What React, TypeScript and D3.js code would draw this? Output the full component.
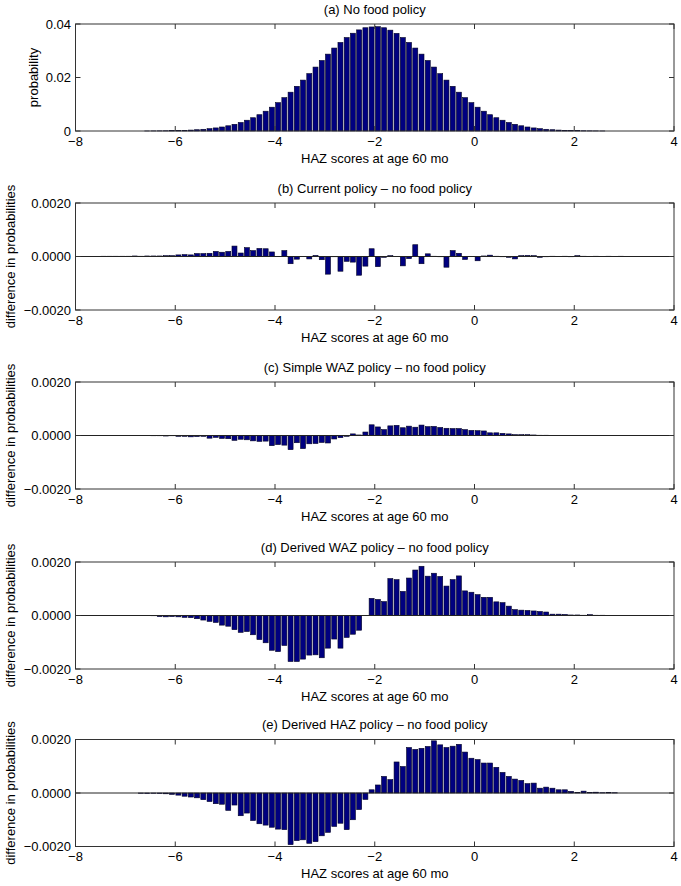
import React from 'react';
import * as d3 from 'd3';

// HAZ bins: 96 bins of width 0.125 from -8 to 4
const binWidth = 0.125;
const binStart = -8;
const xTicks = [-8, -6, -4, -2, 0, 2, 4];

const noFood = [
  0, 0, 0, 0, 0, 0, 0, 0, 0, 0, 0, 0.00002, 0.00004, 0.00006, 0.00009, 0.00013,
  0.00018, 0.00025, 0.00035, 0.00048, 0.00064, 0.00086, 0.00115, 0.0015, 0.00195, 0.0025,
  0.00318, 0.00403, 0.00496, 0.00609, 0.0074, 0.0089, 0.01059, 0.01246, 0.01451, 0.01671,
  0.01903, 0.02144, 0.0239, 0.02635, 0.02874, 0.03101, 0.0331, 0.03494, 0.03655, 0.0378,
  0.0386, 0.0389, 0.039, 0.0386, 0.0377, 0.03649, 0.03494, 0.0331, 0.03101, 0.02874,
  0.02635, 0.0239, 0.02144, 0.01903, 0.01671, 0.01451, 0.01246, 0.01059, 0.0089, 0.0074,
  0.00609, 0.00496, 0.00403, 0.00318, 0.0025, 0.00195, 0.0015, 0.00115, 0.00086, 0.00064,
  0.00048, 0.00035, 0.00025, 0.00018, 0.00013, 0.00009, 0.00006, 0.00004, 0.00002, 0,
  0, 0, 0, 0, 0, 0, 0, 0, 0, 0,
];

const currentPolicy = [
  0, 0, 0, 0, 0.00001, 0.00001, 0.00001, 0.00001, 0.00001, 0.00002, 0.00001, 0.00002, 0.00002, 0.00002, 0.00003, 0.00003,
  0.00006, 0.00007, 0.00006, 0.00011, 0.00011, 0.00012, 0.00019, 0.00016, 0.00019,
  0.00039, 0.00013, 0.00033, 0.00022, 0.0003, 0.00029, 0.00017, 0.0, 0.00022,
  -0.00027, -0.0001, 0.0, -0.00009, 0.00004, -0.00012, -0.00066, -0.00001, -0.00055, -0.00018, -0.00021, -0.0007, -0.00036, 0.00029,
  -0.00038, -0.00003, 0.00003, 0.0, -0.00035, -0.00008, 0.00044, -0.00027, 0.0001, 0.00001, -0.00001, -0.0004, 0.00022, 0.00012,
  -0.00011, 0.0, -0.00016, 0.00002, 0.00005, 0.00001, -0.00001, -0.00003, -0.00009, 0.00003, 0.00004, 0.00003, -0.00003, -0.00001,
  0.00001, 0.0, 0.00001, -0.00001, 0.00003, 0.00001, 0.0, 0.00001, 0.0, 0.00001, 0.0, 0.00001, 0, 0,
  0, 0, 0, 0, 0, 0,
];

const simpleWaz = [
  0, 0, 0, 0, 0, 0, 0, 0, 0, 0, 0, 0, -0.00001, -0.00001, -0.00002, -0.00001,
  -0.00003, -0.00003, -0.00005, -0.00004, -0.00003, -0.0001, -0.00007, -0.00011, -0.00012, -0.00018,
  -0.00014, -0.00016, -0.0002, -0.00022, -0.00021, -0.00038, -0.00034, -0.00036, -0.00053, -0.00027,
  -0.00049, -0.00031, -0.0003, -0.00026, -0.00028, -0.00013, -0.00008, -0.00003, 0.00006, 0.00002,
  0.00013, 0.0004, 0.00032, 0.00022, 0.00036, 0.00038, 0.00029, 0.00035, 0.00031, 0.00039,
  0.00033, 0.00034, 0.0003, 0.00027, 0.00026, 0.00026, 0.00022, 0.00019, 0.00018, 0.00017,
  0.0001, 0.0001, 0.00008, 0.00006, 0.00003, 0.00003, 0.00003, 0.00002, 0.00001, 0.00001,
  0, 0, 0, 0, 0, 0, 0, 0, 0, 0, 0, 0, 0, 0, 0, 0, 0, 0, 0, 0,
];

const derivedWaz = [
  0, 0, 0, 0, 0, 0, 0, 0, 0, 0, 0, 0, -0.00001, -0.00004, -0.00005, -0.00004,
  -0.00005, -0.00007, -0.00008, -0.00012, -0.00017, -0.00022, -0.00026, -0.00036, -0.0004, -0.00053,
  -0.00063, -0.0006, -0.00072, -0.0009, -0.00102, -0.0013, -0.00135, -0.00112, -0.00172, -0.00172,
  -0.00163, -0.00148, -0.00147, -0.00158, -0.00122, -0.00088, -0.00122, -0.00082, -0.0007, -0.00055,
  0, 0.00064, 0.0006, 0.00052, 0.00138, 0.00134, 0.0009, 0.0014, 0.0017, 0.00184,
  0.00147, 0.00158, 0.00146, 0.0011, 0.00134, 0.00148, 0.00092, 0.00087, 0.00078, 0.00068,
  0.00068, 0.00051, 0.00048, 0.00035, 0.00022, 0.0002, 0.00019, 0.00017, 0.00015, 0.00013,
  0.00005, 0.00005, 0.00004, 0.00002, 0.00002, 0.00001, 0.00003, 0.00001, 0.00001, 0,
  0, 0, 0, 0, 0, 0, 0, 0, 0, 0, 0,
];

const derivedHaz = [
  0, 0, 0, 0, 0, 0, 0, 0, 0, 0, -0.00001, -0.00002, -0.00001, -0.00002, -0.00003, -0.00005,
  -0.00008, -0.00012, -0.00015, -0.00018, -0.00025, -0.00032, -0.0004, -0.00042, -0.00065, -0.00045,
  -0.00085, -0.00075, -0.00103, -0.00115, -0.0012, -0.00128, -0.00135, -0.00137, -0.00193, -0.00178,
  -0.00175, -0.00188, -0.00182, -0.0016, -0.00147, -0.00125, -0.00113, -0.00137, -0.001, -0.00062,
  -0.00024, 0.00012, 0.0003, 0.00062, 0.0005, 0.00116, 0.00099, 0.0017, 0.00163, 0.00167,
  0.00174, 0.00195, 0.0018, 0.0017, 0.00175, 0.00182, 0.00153, 0.0013, 0.00125, 0.00112,
  0.00112, 0.00096, 0.00077, 0.00062, 0.00052, 0.00047, 0.00035, 0.00037, 0.00018, 0.00022,
  0.00018, 0.00012, 0.00012, 0.00006, 0.00002, 0.00007, 0.00002, 0.00003, 0.00001, 0.00002,
  0.00001, 0, 0, 0, 0, 0, 0, 0, 0, 0,
];

const probTicks = [0, 0.02, 0.04];
const probTickLabels = ['0', '0.02', '0.04'];
const diffTicks = [-0.002, 0, 0.002];
const diffTickLabels = ['\u22120.0020', '0.0000', '0.0020'];

const titles = [
  '(a) No food policy',
  '(b) Current policy \u2013 no food policy',
  '(c) Simple WAZ policy \u2013 no food policy',
  '(d) Derived WAZ policy \u2013 no food policy',
  '(e) Derived HAZ policy \u2013 no food policy',
];
const xLabel = 'HAZ scores at age 60 mo';

const W = 681;
const H = 886;
const L = 75.5;
const R = 674;
const PH = 107;
const tops = [24, 203, 382, 562, 739.5];
const FONT = '"Liberation Sans", Arial, Helvetica, sans-serif';
const AXIS = '#333';

function fmtTick(v: number) {
  return v < 0 ? '\u2212' + Math.abs(v) : String(v);
}

type PanelDef = {
  title: string;
  values: number[];
  domain: [number, number];
  ticks: number[];
  tickLabels: string[];
  ylabel: string;
  ylabelX: number;
  zeroLine: boolean;
};

const panels: PanelDef[] = [
  { title: titles[0], values: noFood, domain: [0, 0.04], ticks: probTicks, tickLabels: probTickLabels, ylabel: 'probability', ylabelX: 33, zeroLine: false },
  { title: titles[1], values: currentPolicy, domain: [-0.002, 0.002], ticks: diffTicks, tickLabels: diffTickLabels, ylabel: 'difference in probabilities', ylabelX: 10, zeroLine: true },
  { title: titles[2], values: simpleWaz, domain: [-0.002, 0.002], ticks: diffTicks, tickLabels: diffTickLabels, ylabel: 'difference in probabilities', ylabelX: 10, zeroLine: true },
  { title: titles[3], values: derivedWaz, domain: [-0.002, 0.002], ticks: diffTicks, tickLabels: diffTickLabels, ylabel: 'difference in probabilities', ylabelX: 10, zeroLine: true },
  { title: titles[4], values: derivedHaz, domain: [-0.002, 0.002], ticks: diffTicks, tickLabels: diffTickLabels, ylabel: 'difference in probabilities', ylabelX: 10, zeroLine: true },
];

const x = d3.scaleLinear().domain([-8, 4]).range([L, R]);

function Panel({ p, top }: { p: PanelDef; top: number }) {
  const bottom = top + PH;
  const y = d3.scaleLinear().domain(p.domain).range([bottom, top]);
  const bw = x(binStart + binWidth * 0.8) - x(binStart);
  const y0 = y(0);
  return (
    <g>
      <text x={(L + R) / 2} y={top - 10.5} textAnchor="middle" fontSize={13} fontFamily={FONT}>{p.title}</text>
      {p.values.map((v, i) => {
        const c = binStart + binWidth * (i + 0.5);
        const yv = y(v);
        const h = Math.abs(yv - y0);
        return (
          <rect key={i} x={x(c) - bw / 2} y={Math.min(yv, y0)} width={bw} height={h}
            fill="#000080" stroke="#000022" strokeWidth={0.6} />
        );
      })}
      {p.zeroLine && <line x1={L} x2={R} y1={y0} y2={y0} stroke="#222" strokeWidth={1} />}
      <rect x={L} y={top} width={R - L} height={PH} fill="none" stroke={AXIS} strokeWidth={1} />
      {xTicks.map((t) => (
        <g key={'xt' + t}>
          <line x1={x(t)} x2={x(t)} y1={bottom} y2={bottom - 5} stroke={AXIS} strokeWidth={1} />
          <line x1={x(t)} x2={x(t)} y1={top} y2={top + 5} stroke={AXIS} strokeWidth={1} />
          <text x={x(t)} y={bottom + 14.5} textAnchor="middle" fontSize={13} fontFamily={FONT}>{fmtTick(t)}</text>
        </g>
      ))}
      {p.ticks.map((t, i) => (
        <g key={'yt' + i}>
          <line x1={L} x2={L + 5} y1={y(t)} y2={y(t)} stroke={AXIS} strokeWidth={1} />
          <line x1={R} x2={R - 5} y1={y(t)} y2={y(t)} stroke={AXIS} strokeWidth={1} />
          <text x={L - 4.5} y={y(t) + 4.5} textAnchor="end" fontSize={13} fontFamily={FONT}>{p.tickLabels[i]}</text>
        </g>
      ))}
      <text x={(L + R) / 2} y={bottom + 31.5} textAnchor="middle" fontSize={13} fontFamily={FONT}>{xLabel}</text>
      <text transform={`translate(${p.ylabelX + 4.5},${(top + bottom) / 2}) rotate(-90)`} textAnchor="middle" fontSize={13} fontFamily={FONT}>{p.ylabel}</text>
    </g>
  );
}

export default function App() {
  return (
    <svg width={W} height={H} viewBox={`0 0 ${W} ${H}`} style={{ position: 'absolute', left: 0, top: 0, background: '#fff' }}>
      <rect x={0} y={0} width={W} height={H} fill="#fff" />
      {panels.map((p, i) => (
        <Panel key={i} p={p} top={tops[i]} />
      ))}
    </svg>
  );
}
